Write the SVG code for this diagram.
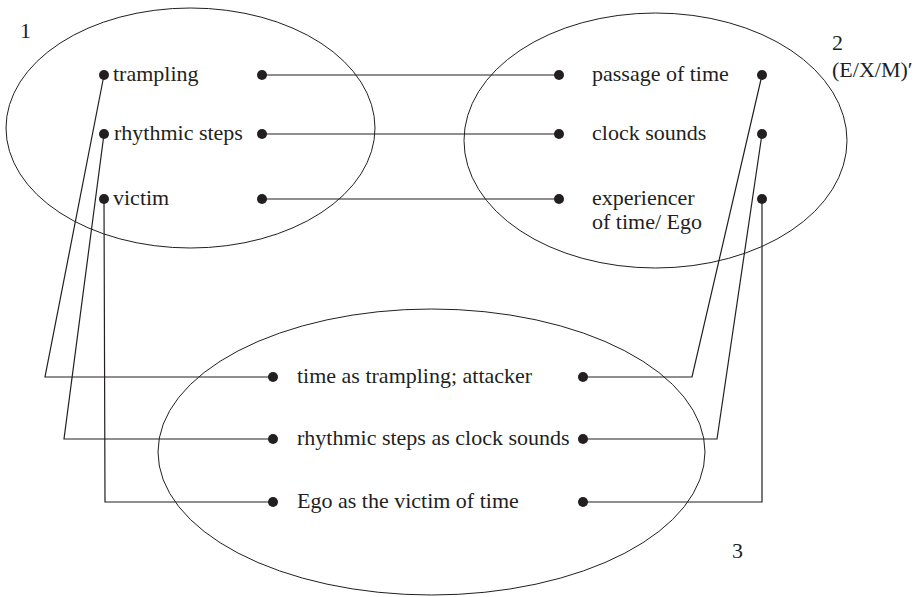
<svg xmlns="http://www.w3.org/2000/svg" width="918" height="597" viewBox="0 0 918 597">
  <style>
    .domain { fill: none; stroke: #231f20; stroke-width: 1; }
    .link { fill: none; stroke: #231f20; stroke-width: 1.2; }
    .dot { fill: #231f20; }
    text { font-family: "Liberation Serif", "Times New Roman", serif; font-size: 22px; fill: #231f20; }
  </style>
  <rect width="918" height="597" fill="#ffffff"/>

  <!-- connectors -->
  <g id="connectors">
    <line class="link" x1="262" y1="75" x2="559" y2="75"/>
    <line class="link" x1="262" y1="134" x2="559" y2="134"/>
    <line class="link" x1="262" y1="199" x2="559" y2="199"/>
    <polyline class="link" points="104,75 45,377 273,377"/>
    <polyline class="link" points="104,134 64,439 273,439"/>
    <polyline class="link" points="104,199 105,502 273,502"/>
    <polyline class="link" points="583,377 692,377 762,75"/>
    <polyline class="link" points="583,439 717,439 762,134"/>
    <polyline class="link" points="583,502 762,502 762,199"/>
  </g>

  <!-- space 1 -->
  <g id="space1">
    <ellipse class="domain" cx="190.5" cy="128" rx="184.5" ry="120"/>
    <text x="20" y="38">1</text>
    <circle class="dot" cx="104" cy="75" r="5"/>
    <circle class="dot" cx="104" cy="134" r="5"/>
    <circle class="dot" cx="104" cy="199" r="5"/>
    <circle class="dot" cx="262" cy="75" r="5"/>
    <circle class="dot" cx="262" cy="134" r="5"/>
    <circle class="dot" cx="262" cy="199" r="5"/>
    <text x="113" y="81">trampling</text>
    <text x="114" y="140">rhythmic steps</text>
    <text x="113" y="205">victim</text>
  </g>

  <!-- space 2 -->
  <g id="space2">
    <ellipse class="domain" cx="655.5" cy="140.5" rx="191.5" ry="127.5"/>
    <text x="832" y="50">2</text>
    <text x="832" y="77">(E/X/M)′</text>
    <circle class="dot" cx="559" cy="75" r="5"/>
    <circle class="dot" cx="559" cy="134" r="5"/>
    <circle class="dot" cx="559" cy="199" r="5"/>
    <circle class="dot" cx="762" cy="75" r="5"/>
    <circle class="dot" cx="762" cy="134" r="5"/>
    <circle class="dot" cx="762" cy="199" r="5"/>
    <text x="592" y="81">passage of time</text>
    <text x="592" y="140">clock sounds</text>
    <text x="592" y="205">experiencer</text>
    <text x="592" y="229">of time/ Ego</text>
  </g>

  <!-- space 3 -->
  <g id="space3">
    <ellipse class="domain" cx="431.5" cy="452" rx="273.5" ry="143"/>
    <text x="732" y="558">3</text>
    <circle class="dot" cx="273" cy="377" r="5"/>
    <circle class="dot" cx="273" cy="439" r="5"/>
    <circle class="dot" cx="273" cy="502" r="5"/>
    <circle class="dot" cx="583" cy="377" r="5"/>
    <circle class="dot" cx="583" cy="439" r="5"/>
    <circle class="dot" cx="583" cy="502" r="5"/>
    <text x="297" y="383">time as trampling; attacker</text>
    <text x="297" y="445">rhythmic steps as clock sounds</text>
    <text x="297" y="508">Ego as the victim of time</text>
  </g>
</svg>
